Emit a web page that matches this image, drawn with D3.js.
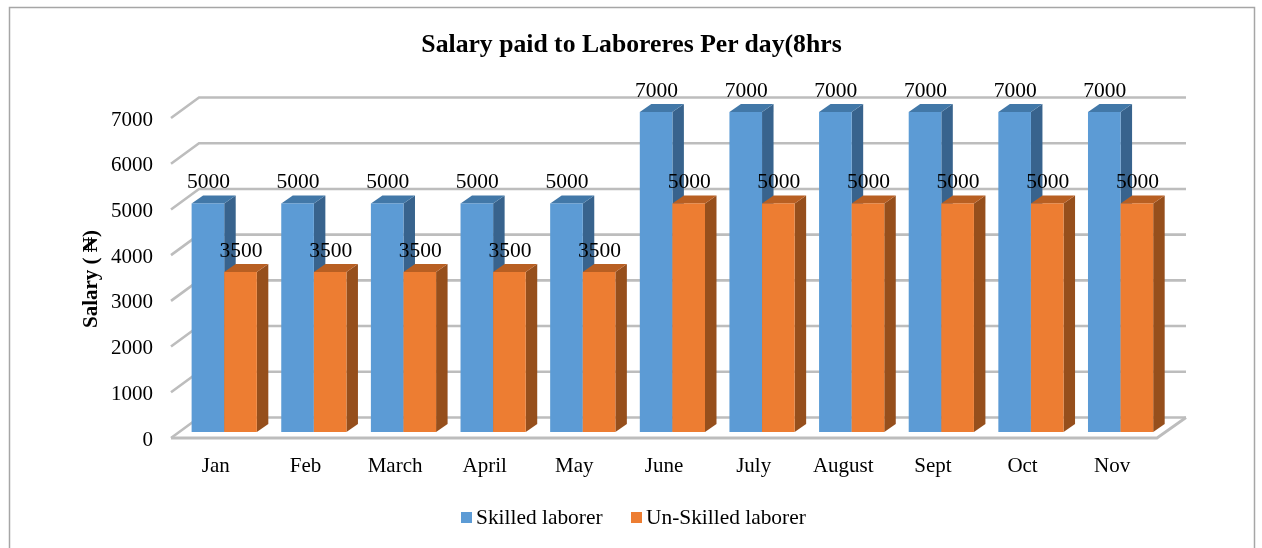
<!DOCTYPE html>
<html><head><meta charset="utf-8">
<script src="https://cdn.jsdelivr.net/npm/d3@7"></script>
<style>html,body{margin:0;padding:0;background:#fff;overflow:hidden}svg{display:block}text{font-family:"Liberation Serif",serif;fill:#000}</style>
</head><body><div id="c"></div>
<script>
const months=["Jan","Feb","March","April","May","June","July","August","Sept","Oct","Nov"];
const skilled=[5000,5000,5000,5000,5000,7000,7000,7000,7000,7000,7000];
const unskilled=[3500,3500,3500,3500,3500,5000,5000,5000,5000,5000,5000];
const yTicks=[0,1000,2000,3000,4000,5000,6000,7000];
const seriesNames=["Skilled laborer","Un-Skilled laborer"];
const W=1262,H=548;
const svg=d3.select("#c").append("svg").attr("width",W).attr("height",H);
const defs=svg.append("defs");
defs.append("filter").attr("id","soft").attr("x","-5%").attr("y","-5%").attr("width","110%").attr("height","110%")
  .append("feGaussianBlur").attr("stdDeviation",0.55);
defs.append("filter").attr("id","softText").attr("filterUnits","userSpaceOnUse").attr("x",0).attr("y",0).attr("width",W).attr("height",H)
  .append("feGaussianBlur").attr("stdDeviation",0.3);
svg.append("path").attr("d","M9.5,548V7.5H1254.5V548").attr("fill","none").attr("stroke","#a6a6a6").attr("stroke-width",1.5);

const x=d3.scaleBand().domain(months).range([171,1157]);
const yBack=d3.scaleLinear().domain([0,7000]).range([417.5,97.5]);
const yBar=d3.scaleLinear().domain([0,7000]).range([432,112]);
const wall={dx:28,dy:20.5}, barDepth={dx:11.5,dy:8};
const barW=32.6, shift=8.4;

const g=svg.append("g").attr("filter","url(#soft)");
g.selectAll(".grid").data(yTicks).join("path").attr("class","grid")
 .attr("d",d=>`M${171},${yBack(d)+wall.dy}L${199},${yBack(d)}H1186`)
 .attr("fill","none").attr("stroke","#bdbdbd").attr("stroke-width",2.6);
g.append("path").attr("d",`M171,${yBack(0)+wall.dy}H1157L1186,${yBack(0)}`)
 .attr("fill","none").attr("stroke","#bdbdbd").attr("stroke-width",2.8);

function bar(sel,xf,yv,front,top,side){
  const x0=xf,y0=yBar(yv),b=yBar(0),w=barW,dx=barDepth.dx,dy=barDepth.dy;
  sel.append("path").attr("d",`M${x0+w},${y0}l${dx},${-dy}V${b-dy}l${-dx},${dy}Z`).attr("fill",side);
  sel.append("path").attr("d",`M${x0},${y0}l${dx},${-dy}h${w}l${-dx},${dy}Z`).attr("fill",top);
  sel.append("rect").attr("x",x0).attr("y",y0).attr("width",w).attr("height",b-y0).attr("fill",front);
}
months.forEach((m,i)=>{
  const c=x(m)+x.bandwidth()/2+shift;
  bar(g,c-barW,skilled[i],"#5b9bd5","#4378a8","#38648d");
  bar(g,c,unskilled[i],"#ed7d31","#b85f22","#964f1e");
});
const txt=svg.append("g").attr("filter","url(#softText)");
const lab=txt.append("g").attr("font-size",21.5).attr("text-anchor","middle");
months.forEach((m,i)=>{
  const c=x(m)+x.bandwidth()/2+shift;
  lab.append("text").attr("x",c-barW/2+0.5).attr("y",yBar(skilled[i])-15).text(skilled[i]);
  lab.append("text").attr("x",c+barW/2+0.5).attr("y",yBar(unskilled[i])-15).text(unskilled[i]);
});
txt.append("g").attr("font-size",21).attr("text-anchor","end").selectAll("text").data(yTicks).join("text")
  .attr("x",153).attr("y",d=>yBack(d)+wall.dy+7.5).text(d=>d);
txt.append("g").attr("font-size",21).attr("text-anchor","middle").selectAll("text").data(months).join("text")
  .attr("x",d=>x(d)+x.bandwidth()/2).attr("y",472).text(d=>d);
txt.append("text").attr("x",631.5).attr("y",52).attr("text-anchor","middle").attr("font-size",25.7).attr("font-weight","bold").text("Salary paid to Laboreres Per day(8hrs");
txt.append("text").attr("transform","translate(97,279) rotate(-90)").attr("text-anchor","middle").attr("font-size",21).attr("font-weight","bold").text("Salary ( ₦)");
const leg=txt.append("g").attr("font-size",21.4);
[[461,476,"#5b9bd5"],[631,646,"#ed7d31"]].forEach((l,i)=>{
  leg.append("rect").attr("x",l[0]).attr("y",512).attr("width",11).attr("height",11).attr("fill",l[2]);
  leg.append("text").attr("x",l[1]).attr("y",524).text(seriesNames[i]);
});
</script></body></html>
